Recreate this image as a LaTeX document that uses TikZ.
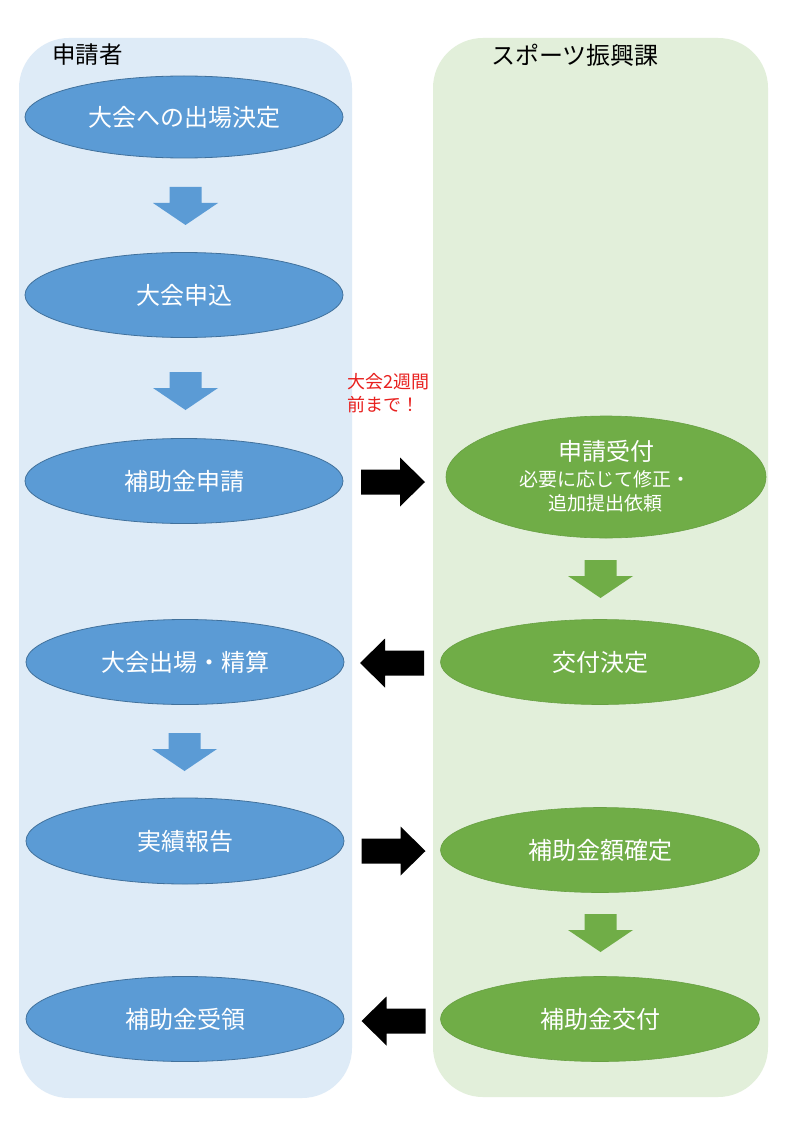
\documentclass[tikz,border=0pt]{standalone}
\usepackage{fontspec}
\setmainfont{Noto Sans CJK JP}
\usetikzlibrary{shapes.geometric}
\definecolor{laneblue}{HTML}{DEEBF7}
\definecolor{lanegreen}{HTML}{E2EFDA}
\definecolor{ellblue}{HTML}{5B9BD5}
\definecolor{ellblueborder}{HTML}{41719C}
\definecolor{ellgreen}{HTML}{70AD47}
\definecolor{ellgreenborder}{HTML}{68A043}
\definecolor{notered}{HTML}{E8201E}
\tikzset{
  lane/.style={rounded corners=50pt},
  header/.style={anchor=west, inner sep=0pt, font=\fontsize{23.5}{28}\selectfont, text=black},
  bluestep/.style={ellipse, fill=ellblue, draw=ellblueborder, line width=0.8pt, inner sep=0pt,
     minimum width=318pt, minimum height=85pt, text=white, font=\fontsize{24}{28}\selectfont},
  greenstep/.style={ellipse, fill=ellgreen, draw=ellgreenborder, line width=0.6pt, inner sep=0pt,
     minimum width=319pt, minimum height=85pt, text=white, font=\fontsize{24}{28}\selectfont, align=center},
  pics/downarrow/.style={code={
     \fill[#1] (-16,-19) -- (16,-19) -- (16,-3) -- (32.5,-3) -- (0,19) -- (-32.5,-3) -- (-16,-3) -- cycle;}},
  pics/rightblock/.style={code={
     \fill[black] (-32,-12.5) -- (7,-12.5) -- (7,-24.5) -- (32,0) -- (7,24.5) -- (7,12.5) -- (-32,12.5) -- cycle;}},
  pics/leftblock/.style={code={
     \fill[black] (32,-12.5) -- (-7,-12.5) -- (-7,-24.5) -- (-32,0) -- (-7,24.5) -- (-7,12.5) -- (32,12.5) -- cycle;}},
}
\begin{document}
\begin{tikzpicture}[x=1pt,y=-1pt]
\useasboundingbox (0,0) rectangle (794,1123);
\fill[white] (0,0) rectangle (794,1123);
% lanes
\fill[laneblue, lane] (19,38) rectangle (352,1098);
\fill[lanegreen, lane] (433,38) rectangle (768,1097);
\node[header] (hA) at (52,55) {申請者};
\node[header, font=\fontsize{24}{28}\selectfont] (hB) at (491,55) {スポーツ振興課};
% left steps
\node[bluestep, minimum height=82pt] (a1) at (184,117) {大会への出場決定};
\node[bluestep] (a2) at (184,295) {大会申込};
\node[bluestep] (a3) at (184,481) {補助金申請};
\node[bluestep] (a4) at (185,662) {大会出場・精算};
\node[bluestep, minimum height=86pt] (a5) at (185,841) {実績報告};
\node[bluestep] (a6) at (185,1019) {補助金受領};
% right steps
\node[greenstep, minimum width=320pt, minimum height=122pt] (b1) at (606,477) {};
\node[text=white, inner sep=0pt, font=\fontsize{24}{28}\selectfont] (b1t) at (606,451) {申請受付};
\node[text=white, inner sep=0pt, font=\fontsize{19}{24}\selectfont, align=center] (b1s) at (605,491) {必要に応じて修正・\\追加提出依頼};
\node[greenstep] (b2) at (600,662) {交付決定};
\node[greenstep] (b3) at (600,850) {補助金額確定};
\node[greenstep] (b4) at (600,1019) {補助金交付};
% note
\node[anchor=north west, inner sep=0pt, align=left, text=notered, font=\fontsize{18}{23}\selectfont] (note) at (347,373) {大会2週間\\前まで！};
% down arrows
\pic (d1) at (185.5,206) {downarrow=ellblue};
\pic (d2) at (185.5,391) {downarrow=ellblue};
\pic (d3) at (184.5,752) {downarrow=ellblue};
\pic (d4) at (600.5,579) {downarrow=ellgreen};
\pic (d5) at (600.5,933) {downarrow=ellgreen};
% block arrows between lanes
\pic (r1) at (393,482) {rightblock};
\pic (l1) at (392,663) {leftblock};
\pic (r2) at (393.5,851) {rightblock};
\pic (l2) at (393.5,1021) {leftblock};
\end{tikzpicture}
\end{document}
